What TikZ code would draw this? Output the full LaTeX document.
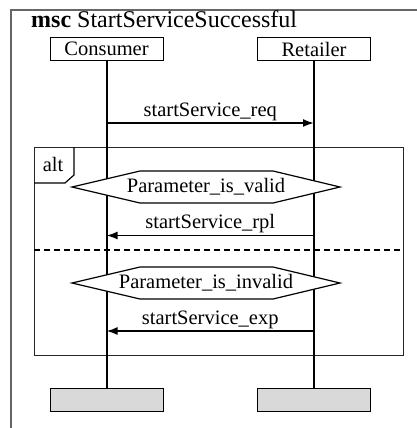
\documentclass[tikz,border=0pt]{standalone}
\usepackage{fontspec}
\setmainfont{Liberation Serif}
\usetikzlibrary{arrows.meta, positioning}
\definecolor{framegray}{HTML}{666666}
\definecolor{stopgray}{HTML}{D9D9D9}

\tikzset{
  instbox/.style={rectangle, draw=black, line width=1pt, minimum width=113pt, minimum height=23pt, inner sep=0pt, font=\fontsize{20.5}{24}\selectfont},
  stopbox/.style={rectangle, draw=black, line width=1pt, fill=stopgray, minimum width=113pt, minimum height=23pt},
  lifeline/.style={line width=2pt},
  msg/.style={line width=1.8pt, -{Latex[length=11pt,width=8pt]}},
  lbl/.style={font=\fontsize{20.5}{24}\selectfont, inner sep=0pt},
  cond/.style={draw=black, line width=1.2pt, fill=white},
}

\begin{document}
\begin{tikzpicture}[x=1pt, y=-1pt]
\useasboundingbox (0,0) rectangle (417,428);
% msc frame (runs off the page)
\draw[framegray, line width=1.5pt] (11,440) -- (11,10) -- (430,10);
\node[anchor=base west, inner sep=0pt, font=\fontsize{24}{28}\selectfont] (title) at (31,28) {\textbf{msc} StartServiceSuccessful};

% instances
\node[instbox] (cons) at (106.5,49) {Consumer};
\node[instbox] (ret) at (314,49) {Retailer};
\node[stopbox] (consend) at (106.5,399.5) {};
\node[stopbox] (retend) at (314,399.5) {};

% alt frame
\draw[black!85, line width=1pt] (34,147) rectangle (403,355);
\draw[black, line width=1.2pt] (74,147) -- (74,175) -- (65,183) -- (34,183);
\node[lbl] (alt) at (53,164) {alt};

% lifelines
\draw[lifeline] (cons) -- (consend);
\draw[lifeline] (ret) -- (retend);

% message points
\coordinate (c1) at (106.5,123);
\coordinate (r1) at (314,123);
\coordinate (c2) at (106.5,235.5);
\coordinate (r2) at (314,235.5);
\coordinate (c3) at (106.5,331);
\coordinate (r3) at (314,331);

\draw[msg] (c1) -- node[lbl, above=1.5pt] {startService\_req} (r1);

% conditions
\draw[cond] (72,187) -- (140,171) -- (273,171) -- (340,187) -- (273,203) -- (140,203) -- cycle;
\node[lbl] (valid) at (206,187) {Parameter\_is\_valid};
\draw[msg] (r2) -- node[lbl, above=1.5pt] {startService\_rpl} (c2);

\draw[line width=1.5pt, dash pattern=on 6pt off 4pt] (34,250) -- (403,250);

\draw[cond] (72,283) -- (140,267) -- (273,267) -- (340,283) -- (273,299) -- (140,299) -- cycle;
\node[lbl] (invalid) at (206,283) {Parameter\_is\_invalid};
\draw[msg] (r3) -- node[lbl, above=1.5pt] {startService\_exp} (c3);
\end{tikzpicture}
\end{document}
